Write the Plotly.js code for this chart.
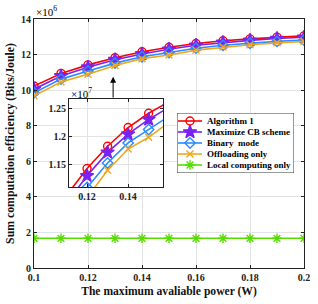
<!DOCTYPE html>
<html><head>
<script src="https://cdn.plot.ly/plotly-3.0.1.min.js"></script>
<style>body{margin:0;background:#fff}</style>
</head><body>
<div id="chart" style="width:318px;height:304px"></div>
<script>
// values in units of 10^6 Bits/Joule
const power = [0.10, 0.11, 0.12, 0.13, 0.14, 0.15, 0.16, 0.17, 0.18, 0.19, 0.20];
const algorithm1 = [10.23, 10.94, 11.42, 11.82, 12.155, 12.41, 12.62, 12.78, 12.88, 12.98, 13.05];
const maximizeCB = [10.05, 10.80, 11.29, 11.71, 12.036, 12.30, 12.52, 12.68, 12.80, 12.90, 12.97];
const binaryMode = [9.85, 10.62, 11.08, 11.52, 11.88, 12.12, 12.36, 12.52, 12.64, 12.74, 12.82];
const offloadingOnly = [9.68, 10.46, 10.90, 11.39, 11.77, 11.98, 12.25, 12.42, 12.55, 12.66, 12.74];
const localOnly = [1.67, 1.67, 1.67, 1.67, 1.67, 1.67, 1.67, 1.67, 1.67, 1.67, 1.67];

const seriesNames = ["Algorithm 1", "Maximize CB scheme", "Binary  mode", "Offloading only", "Local computing only"];
const mainYTicks = [0, 2, 4, 6, 8, 10, 12, 14];
const mainXTicks = [0.1, 0.12, 0.14, 0.16, 0.18, 0.2];
const insetYTickVals = [11.5, 12.0, 12.5];
const insetYTickText = ["1.15", "1.2", "1.25"];
const insetXTicks = [0.12, 0.14];

const FONT = "Liberation Serif, Times New Roman, serif";
const styles = [
  {color: "#FF0000", symbol: "circle-open", size: 8, lw: 1.6},
  {color: "#7B22F0", symbol: "star", size: 10, lw: 1.6},
  {color: "#2A8CFF", symbol: "diamond-open", size: 8, lw: 1.6},
  {color: "#EDA820", symbol: "x-thin-open", size: 7, lw: 1.6},
  {color: "#55DD00", symbol: "asterisk-open", size: 8, lw: 1.6}
];
const allSeries = [algorithm1, maximizeCB, binaryMode, offloadingOnly, localOnly];

const traces = [];
allSeries.forEach((ys, i) => {
  const s = styles[i];
  const mk = {symbol: s.symbol, size: s.size, color: s.color, line: {color: s.color, width: 1.4}};
  traces.push({x: power, y: ys, xaxis: "x", yaxis: "y", mode: "lines+markers", name: seriesNames[i],
    line: {color: s.color, width: s.lw}, marker: mk, showlegend: false, hoverinfo: "none"});
  if (i < 4) {
    traces.push({x: power, y: ys, xaxis: "x2", yaxis: "y2", mode: "lines+markers", name: seriesNames[i],
      line: {color: s.color, width: s.lw}, marker: mk, showlegend: false, hoverinfo: "none"});
  }
});

// custom compact legend in its own (hidden) axes
const annotations = [];
seriesNames.forEach((n, i) => {
  const s = styles[i];
  const yy = 8 + 11 * i;
  traces.push({x: [1, 13, 25], y: [yy, yy, yy], xaxis: "x3", yaxis: "y3", mode: "lines",
    line: {color: s.color, width: s.lw}, showlegend: false, hoverinfo: "none"});
  traces.push({x: [13], y: [yy], xaxis: "x3", yaxis: "y3", mode: "markers",
    marker: {symbol: s.symbol, size: s.size, color: s.color, line: {color: s.color, width: 1.4}},
    showlegend: false, hoverinfo: "none", cliponaxis: false});
  annotations.push({xref: "x3", yref: "y3", x: 28, y: yy, text: "<b>" + n + "</b>", showarrow: false,
    xanchor: "left", yanchor: "middle", font: {family: FONT, size: 9, color: "#000"}});
});

annotations.push({xref: "paper", yref: "paper", x: 0, y: 1, xanchor: "left", yanchor: "bottom",
  text: "×10<sup>6</sup>", showarrow: false, font: {family: FONT, size: 11, color: "#000"}, yshift: -1});
annotations.push({xref: "x2 domain", yref: "y2 domain", x: 0, y: 1, xanchor: "left", yanchor: "bottom",
  text: "×10<sup>7</sup>", showarrow: false, font: {family: FONT, size: 11, color: "#000"}, yshift: -3});
annotations.push({xref: "x", yref: "y", x: 0.1293, y: 10.75, axref: "x", ayref: "y", ax: 0.1293, ay: 9.5,
  showarrow: true, arrowhead: 2, arrowsize: 1.2, arrowwidth: 1, arrowcolor: "#000", text: ""});

const axisCommon = {showline: true, linecolor: "#222", linewidth: 1, mirror: "ticks", ticks: "inside",
  ticklen: 3, tickcolor: "#222", showgrid: true, gridcolor: "#E3E3E3", gridwidth: 1, zeroline: false,
  tickfont: {family: FONT, size: 10, color: "#222", weight: "bold"}};

const layout = {
  width: 318, height: 304,
  margin: {l: 34, r: 14, t: 19, b: 36},
  paper_bgcolor: "#fff", plot_bgcolor: "#fff",
  showlegend: false,
  xaxis: Object.assign({}, axisCommon, {range: [0.1, 0.2], tickvals: mainXTicks, domain: [0, 1], anchor: "y",
    title: {text: "<b>The maximum avaliable power (W)</b>", font: {family: FONT, size: 11.6, color: "#111"}, standoff: 4}}),
  yaxis: Object.assign({}, axisCommon, {range: [0, 14], tickvals: mainYTicks, domain: [0, 1], anchor: "x",
    title: {text: "<b>Sum computation efficiency (Bits/Joule)</b>", font: {family: FONT, size: 11.8, color: "#111"}, standoff: 3}}),
  xaxis2: Object.assign({}, axisCommon, {range: [0.1112, 0.157], tickvals: insetXTicks, domain: [0.1296, 0.4778], anchor: "y2"}),
  yaxis2: Object.assign({}, axisCommon, {range: [11.09, 12.666], tickvals: insetYTickVals, ticktext: insetYTickText,
    domain: [0.3253, 0.6787], anchor: "x2"}),
  xaxis3: {visible: false, range: [0, 117], domain: [0.5296, 0.963], anchor: "y3", fixedrange: true},
  yaxis3: {visible: false, range: [60, 0], domain: [0.3815, 0.6225], anchor: "x3", fixedrange: true},
  shapes: [
    {type: "rect", xref: "x2", yref: "y2", x0: 0.1112, x1: 0.157, y0: 11.09, y1: 12.666, layer: "below",
      fillcolor: "#fff", line: {width: 0}},
    {type: "rect", xref: "x3", yref: "y3", x0: 0, x1: 117, y0: 0, y1: 60, layer: "below",
      fillcolor: "#fff", line: {color: "#333", width: 1}}
  ],
  annotations: annotations
};

Plotly.newPlot("chart", traces, layout, {staticPlot: true, displayModeBar: false});
</script>
</body></html>
